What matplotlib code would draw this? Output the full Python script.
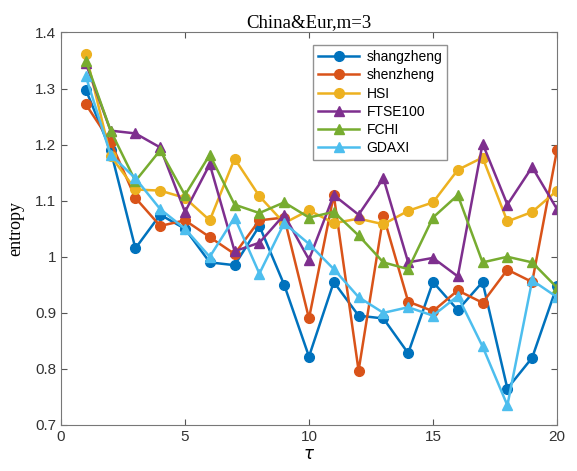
"""
Entropy vs tau for Chinese and European indices, m=3
"""
import numpy as np
import matplotlib
matplotlib.use('agg')
import matplotlib.pyplot as plt

plt.rcParams['font.family'] = ['Liberation Sans', 'DejaVu Sans']

tau = np.arange(1, 21)

shangzheng = [1.298, 1.190, 1.015, 1.075, 1.050, 0.990, 0.985, 1.055, 0.950, 0.822,
              0.955, 0.895, 0.890, 0.828, 0.955, 0.905, 0.955, 0.765, 0.820, 0.948]
shenzheng = [1.272, 1.205, 1.105, 1.055, 1.065, 1.035, 1.005, 1.065, 1.070, 0.890,
             1.110, 0.797, 1.073, 0.920, 0.903, 0.940, 0.918, 0.977, 0.955, 1.190]
hsi = [1.362, 1.180, 1.120, 1.118, 1.105, 1.065, 1.175, 1.108, 1.060, 1.083,
       1.060, 1.068, 1.058, 1.082, 1.097, 1.155, 1.177, 1.063, 1.080, 1.118]
ftse100 = [1.345, 1.225, 1.220, 1.195, 1.080, 1.165, 1.010, 1.025, 1.075, 0.995,
           1.110, 1.075, 1.140, 0.990, 0.998, 0.965, 1.202, 1.093, 1.160, 1.085]
fchi = [1.350, 1.225, 1.135, 1.190, 1.110, 1.182, 1.093, 1.078, 1.097, 1.070,
        1.080, 1.038, 0.990, 0.978, 1.070, 1.110, 0.990, 1.000, 0.990, 0.945]
gdaxi = [1.322, 1.182, 1.140, 1.085, 1.050, 1.000, 1.070, 0.970, 1.060, 1.023,
         0.978, 0.928, 0.900, 0.910, 0.895, 0.930, 0.840, 0.735, 0.958, 0.928]

names = ['shangzheng', 'shenzheng', 'HSI', 'FTSE100', 'FCHI', 'GDAXI']
series = [shangzheng, shenzheng, hsi, ftse100, fchi, gdaxi]
markers = ['o', 'o', 'o', '^', '^', '^']
# matlab default colour order
colors = ['#0072BD', '#D95319', '#EDB120', '#7E2F8E', '#77AC30', '#4DBEEE']

fig = plt.figure(figsize=(5.77, 4.71), dpi=100)
ax = fig.add_axes([0.1057, 0.0977, 0.8596, 0.8333])

for vals, name, mk, c in zip(series, names, markers, colors):
    ax.plot(tau, vals, marker=mk, color=c, label=name, linewidth=1.8, markersize=7)

ax.set_xlim(0, 20)
ax.set_ylim(0.7, 1.4)
ax.set_xticks([0, 5, 10, 15, 20])
ax.set_yticks(np.arange(0.7, 1.41, 0.1))
ax.set_yticklabels(['0.7', '0.8', '0.9', '1', '1.1', '1.2', '1.3', '1.4'])

ax.tick_params(direction='in', top=True, right=True, labelsize=11,
               colors='#555555', labelcolor='#333333', length=4)
for s in ax.spines.values():
    s.set_color('#777777')

ax.set_title('China&Eur,m=3', fontfamily='Liberation Serif', fontsize=13.5, pad=4)
ax.set_ylabel('entropy', fontfamily='Liberation Serif', fontsize=13, labelpad=8)
ax.set_xlabel(r'$\tau$', fontsize=12, labelpad=2)

leg = ax.legend(loc='upper left', bbox_to_anchor=(0.494, 0.985), fontsize=10,
                handlelength=3.0, fancybox=False, edgecolor='#777777',
                borderpad=0.35, labelspacing=0.3, handletextpad=0.5)
leg.get_frame().set_linewidth(1.0)

plt.savefig('out.png', dpi=100)
plt.close()
